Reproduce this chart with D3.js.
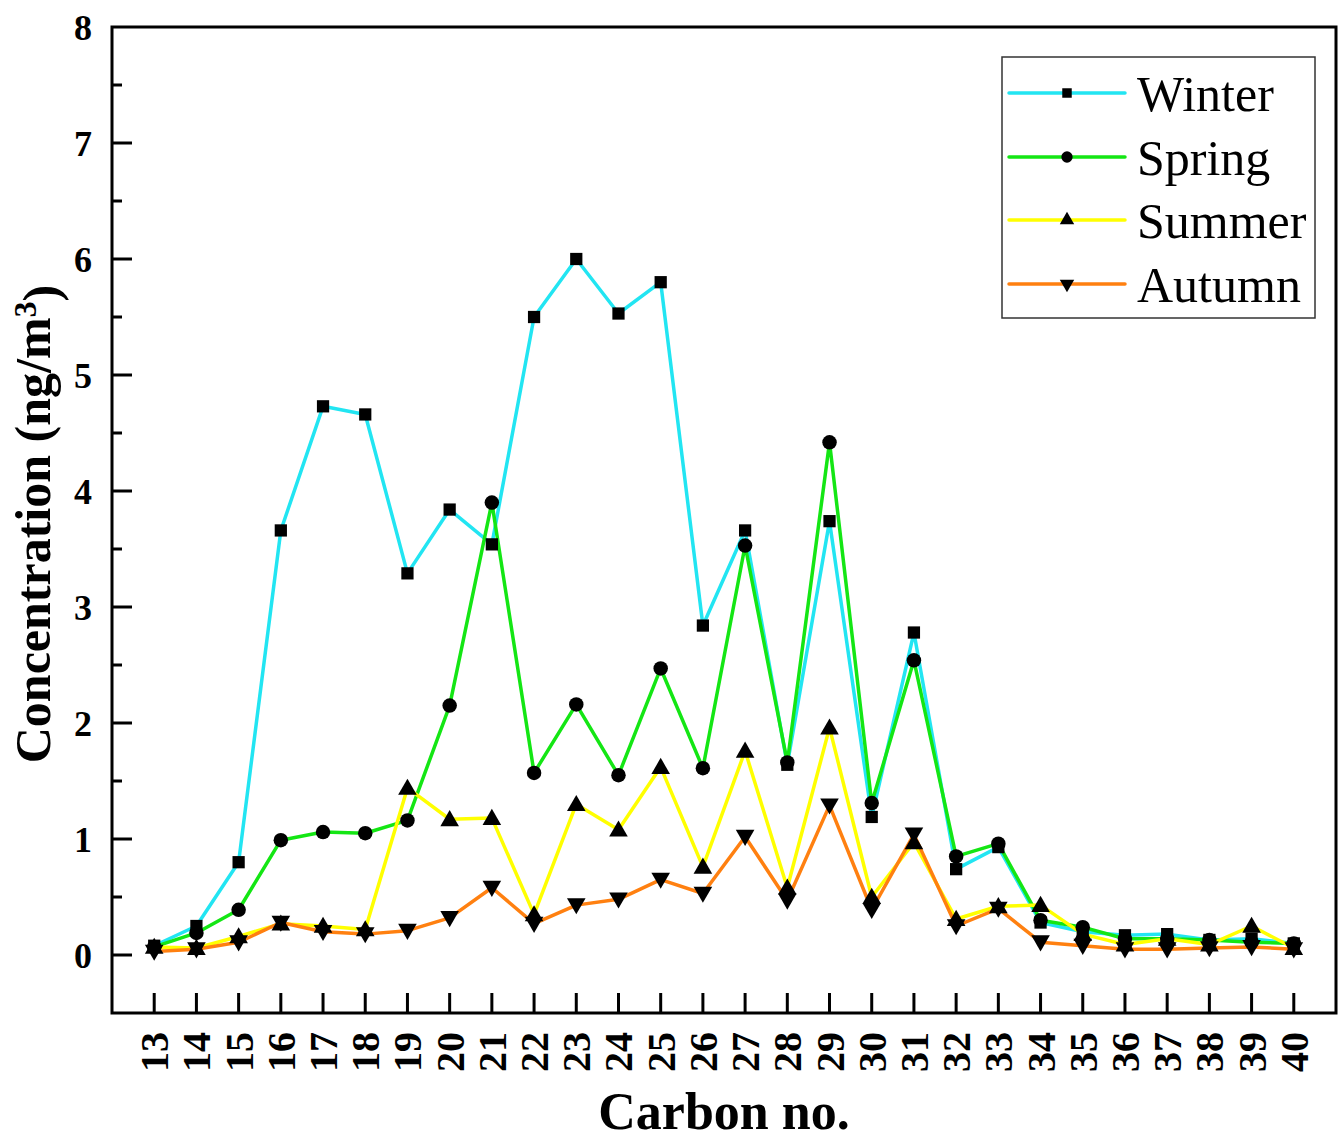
<!DOCTYPE html>
<html>
<head>
<meta charset="utf-8">
<script src="https://cdn.jsdelivr.net/npm/d3@7"></script>
<style>
  html, body { margin: 0; padding: 0; background: #fff; }
  svg { display: block; font-family: "Liberation Serif", "Times New Roman", serif; }
</style>
</head>
<body>
<svg id="chart" width="1341" height="1140"></svg>
<script>
// Carbon numbers on the x axis
const carbons = [13,14,15,16,17,18,19,20,21,22,23,24,25,26,27,28,29,30,31,32,33,34,35,36,37,38,39,40];

// Seasonal concentrations (ng/m3) per carbon number
const winter = [0.08,0.25,0.80,3.66,4.73,4.66,3.29,3.84,3.54,5.50,6.00,5.53,5.80,2.84,3.66,1.64,3.74,1.19,2.78,0.74,0.93,0.28,0.20,0.17,0.18,0.13,0.14,0.10];
const spring = [0.07,0.19,0.39,0.99,1.06,1.05,1.16,2.15,3.90,1.57,2.16,1.55,2.47,1.61,3.53,1.66,4.42,1.31,2.54,0.85,0.96,0.30,0.24,0.14,0.14,0.13,0.11,0.10];
const summer = [0.07,0.06,0.16,0.27,0.25,0.22,1.44,1.17,1.18,0.35,1.30,1.08,1.62,0.76,1.76,0.58,1.96,0.50,0.97,0.31,0.42,0.43,0.18,0.09,0.14,0.09,0.25,0.06];
const autumn = [0.03,0.05,0.11,0.28,0.20,0.18,0.21,0.32,0.58,0.27,0.43,0.48,0.65,0.53,1.02,0.47,1.29,0.39,1.04,0.25,0.40,0.11,0.08,0.05,0.05,0.06,0.07,0.05];

const seriesNames = ["Winter", "Spring", "Summer", "Autumn"];
const seriesValues = [winter, spring, summer, autumn];

// Axis ticks
const yMajorTicks = [0,1,2,3,4,5,6,7,8];
const yMinorTicks = [0.5,1.5,2.5,3.5,4.5,5.5,6.5,7.5];

// Styling
const colors = ["#22e5f2", "#14e614", "#ffff00", "#ff8010"];
const symbols = [d3.symbolSquare, d3.symbolCircle, d3.symbolTriangle, d3.symbolTriangle];
const symbolSizes = [150, 165, 150, 150];
const symbolRotate = [0, 0, 0, 180];

const svg = d3.select("#chart");
const plotLeft = 112, plotRight = 1336, plotTop = 27, plotBottom = 1013;

const x = d3.scaleLinear().domain([12, 41]).range([plotLeft, plotRight]);
const y = d3.scaleLinear().domain([-0.5, 8]).range([plotBottom, plotTop]);

// Series lines
const line = d3.line().x((d, i) => x(carbons[i])).y(d => y(d));
seriesValues.forEach((vals, s) => {
  svg.append("path")
    .datum(vals)
    .attr("fill", "none")
    .attr("stroke", colors[s])
    .attr("stroke-width", 3.5)
    .attr("stroke-linejoin", "round")
    .attr("d", line);
});

// Series markers
seriesValues.forEach((vals, s) => {
  const sym = d3.symbol().type(symbols[s]).size(symbolSizes[s]);
  svg.append("g").selectAll("path")
    .data(vals)
    .join("path")
    .attr("d", sym)
    .attr("fill", "#000")
    .attr("transform", (d, i) => {
      const dy = s === 2 ? 1.5 : (s === 3 ? -1.5 : 0);
      return `translate(${x(carbons[i])},${y(d) + dy}) rotate(${symbolRotate[s]})`;
    });
});

// Frame
svg.append("rect")
  .attr("x", plotLeft).attr("y", plotTop)
  .attr("width", plotRight - plotLeft).attr("height", plotBottom - plotTop)
  .attr("fill", "none").attr("stroke", "#000").attr("stroke-width", 3);

// Y ticks (inward) and labels
svg.append("g").selectAll("line")
  .data(yMajorTicks.filter(v => v < 8))
  .join("line")
  .attr("x1", plotLeft).attr("x2", plotLeft + 20)
  .attr("y1", d => y(d)).attr("y2", d => y(d))
  .attr("stroke", "#000").attr("stroke-width", 3);
svg.append("g").selectAll("line")
  .data(yMinorTicks)
  .join("line")
  .attr("x1", plotLeft).attr("x2", plotLeft + 10)
  .attr("y1", d => y(d)).attr("y2", d => y(d))
  .attr("stroke", "#000").attr("stroke-width", 3);
svg.append("g").selectAll("text")
  .data(yMajorTicks)
  .join("text")
  .attr("x", 92)
  .attr("y", d => y(d))
  .attr("dy", "0.35em")
  .attr("text-anchor", "end")
  .attr("font-size", 36)
  .attr("font-weight", "bold")
  .text(d => d);

// X ticks (inward) and rotated labels
svg.append("g").selectAll("line")
  .data(carbons)
  .join("line")
  .attr("x1", d => x(d)).attr("x2", d => x(d))
  .attr("y1", plotBottom).attr("y2", plotBottom - 20)
  .attr("stroke", "#000").attr("stroke-width", 3);
svg.append("g").selectAll("text")
  .data(carbons)
  .join("text")
  .attr("transform", d => `translate(${x(d)},1032) rotate(-90)`)
  .attr("dy", "0.35em")
  .attr("text-anchor", "end")
  .attr("font-size", 40)
  .attr("font-weight", "bold")
  .text(d => d);

// Axis titles
svg.append("text")
  .attr("x", (plotLeft + plotRight) / 2)
  .attr("y", 1129)
  .attr("text-anchor", "middle")
  .attr("font-size", 52)
  .attr("font-weight", "bold")
  .text("Carbon no.");

const yTitle = svg.append("text")
  .attr("transform", `translate(50,${(plotTop + plotBottom) / 2 + 4}) rotate(-90)`)
  .attr("text-anchor", "middle")
  .attr("font-size", 50)
  .attr("font-weight", "bold");
yTitle.append("tspan").text("Concentration (ng/m");
yTitle.append("tspan").attr("dy", "-0.45em").attr("font-size", 32).text("3");
yTitle.append("tspan").attr("dy", "0.45em").text(")");

// Legend
const legend = svg.append("g");
legend.append("rect")
  .attr("x", 1002).attr("y", 57)
  .attr("width", 313).attr("height", 261)
  .attr("fill", "#fff").attr("stroke", "#333").attr("stroke-width", 1.5);
const legendRows = [93, 157, 220, 284];
const legendSizes = [90, 100, 90, 90];
seriesNames.forEach((name, s) => {
  const ry = legendRows[s];
  legend.append("line")
    .attr("x1", 1009).attr("x2", 1125)
    .attr("y1", ry).attr("y2", ry)
    .attr("stroke", colors[s]).attr("stroke-width", 3.5)
    .attr("stroke-linecap", "round");
  legend.append("path")
    .attr("d", d3.symbol().type(symbols[s]).size(legendSizes[s]))
    .attr("fill", "#000")
    .attr("transform", `translate(1067,${ry}) rotate(${symbolRotate[s]})`);
  legend.append("text")
    .attr("x", 1137).attr("y", ry)
    .attr("dy", "0.35em")
    .attr("font-size", 50)
    .text(name);
});
</script>
</body>
</html>
